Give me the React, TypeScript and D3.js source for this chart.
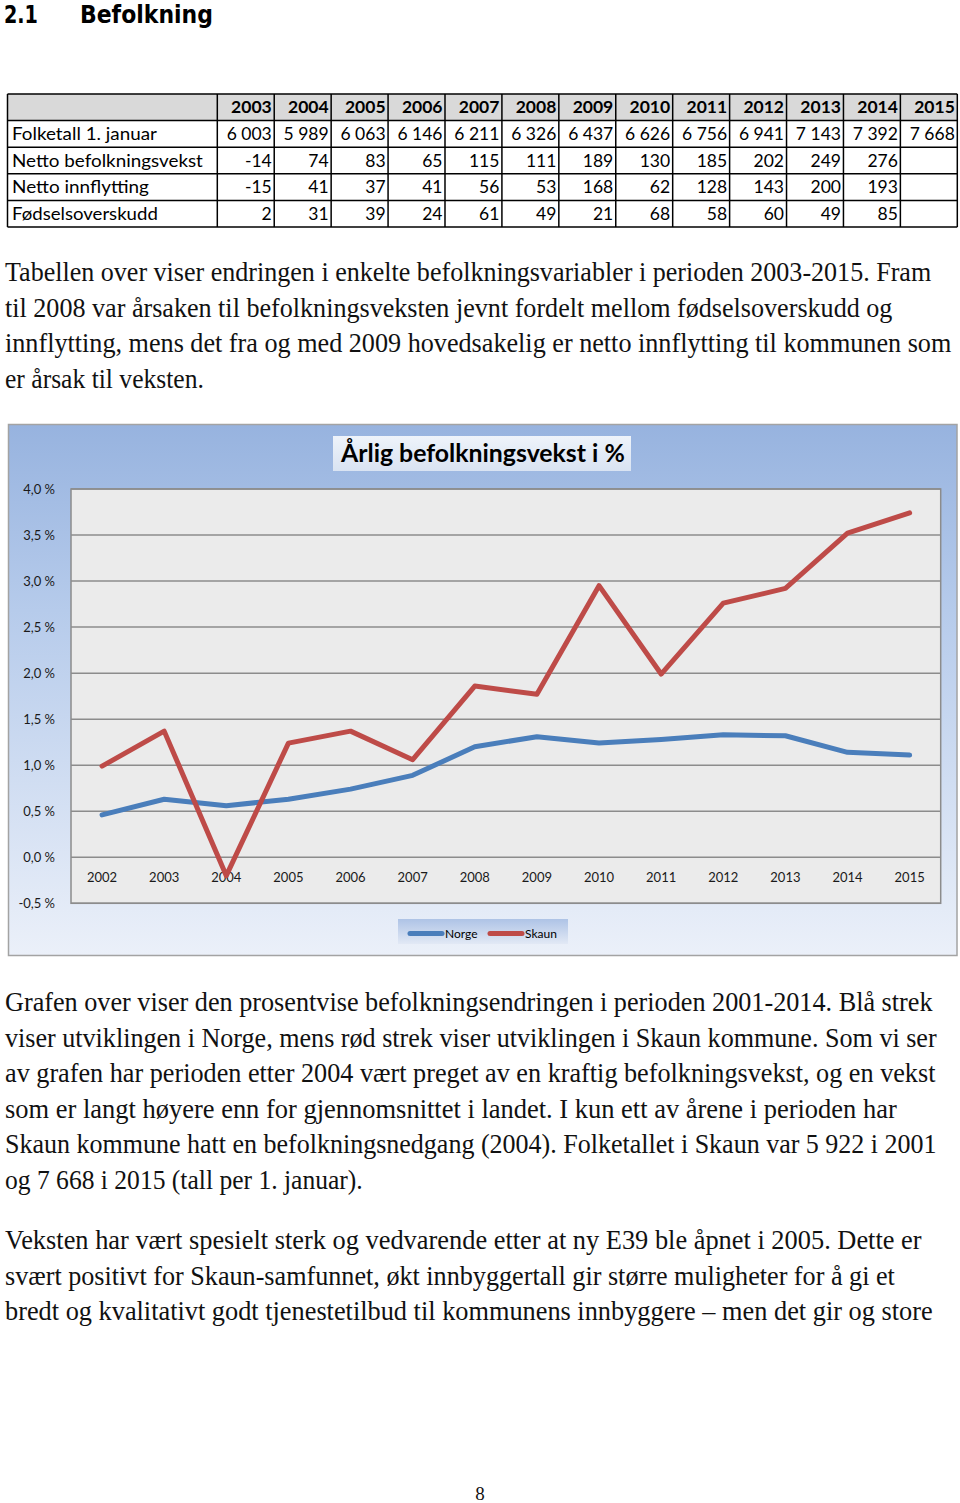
import React, { useLayoutEffect, useRef, useState } from "react";
import * as d3 from "d3";

// ---------- DATA ----------
const chartYears = ["2002", "2003", "2004", "2005", "2006", "2007", "2008", "2009", "2010", "2011", "2012", "2013", "2014", "2015"];
const norge = [0.46, 0.63, 0.56, 0.63, 0.74, 0.89, 1.2, 1.31, 1.24, 1.28, 1.33, 1.32, 1.14, 1.11];
const skaun = [0.99, 1.37, -0.2, 1.24, 1.37, 1.06, 1.86, 1.77, 2.95, 1.99, 2.76, 2.92, 3.52, 3.74];
const yTicks = [-0.5, 0, 0.5, 1, 1.5, 2, 2.5, 3, 3.5, 4];
const seriesNames = ["Norge", "Skaun"];

const tableYears = ["2003", "2004", "2005", "2006", "2007", "2008", "2009", "2010", "2011", "2012", "2013", "2014", "2015"];
const rowLabels = ["Folketall 1. januar", "Netto befolkningsvekst", "Netto innflytting", "Fødselsoverskudd"];
const folketall = [6003, 5989, 6063, 6146, 6211, 6326, 6437, 6626, 6756, 6941, 7143, 7392, 7668];
const nettoVekst = [-14, 74, 83, 65, 115, 111, 189, 130, 185, 202, 249, 276, null];
const nettoInnflytting = [-15, 41, 37, 41, 56, 53, 168, 62, 128, 143, 200, 193, null];
const fodselsoverskudd = [2, 31, 39, 24, 61, 49, 21, 68, 58, 60, 49, 85, null];

const heading = ["2.1", "Befolkning"];
const chartTitle = "Årlig befolkningsvekst i %";
const para1 = [
  "Tabellen over viser endringen i enkelte befolkningsvariabler i perioden 2003-2015. Fram",
  "til 2008 var årsaken til befolkningsveksten jevnt fordelt mellom fødselsoverskudd og",
  "innflytting, mens det fra og med 2009 hovedsakelig er netto innflytting til kommunen som",
  "er årsak til veksten.",
];
const para2 = [
  "Grafen over viser den prosentvise befolkningsendringen i perioden 2001-2014. Blå strek",
  "viser utviklingen i Norge, mens rød strek viser utviklingen i Skaun kommune. Som vi ser",
  "av grafen har perioden etter 2004 vært preget av en kraftig befolkningsvekst, og en vekst",
  "som er langt høyere enn for gjennomsnittet i landet. I kun ett av årene i perioden har",
  "Skaun kommune hatt en befolkningsnedgang (2004). Folketallet i Skaun var 5 922 i 2001",
  "og 7 668 i 2015 (tall per 1. januar).",
];
const para3 = [
  "Veksten har vært spesielt sterk og vedvarende etter at ny E39 ble åpnet i 2005. Dette er",
  "svært positivt for Skaun-samfunnet, økt innbyggertall gir større muligheter for å gi et",
  "bredt og kvalitativt godt tjenestetilbud til kommunens innbyggere – men det gir og store",
];
const pageNumber = "8";

// ---------- LAYOUT ----------
const W = 960;
const H = 1503;
const para1Ends = [932, 893, 952, 204];
const para2Ends = [933, 937, 936, 897, 937, 363];
const para3Ends = [922, 895, 933];

const nb = d3.formatLocale({ decimal: ",", thousands: " ", grouping: [3], currency: ["", ""], minus: "-" });
const fmtInt = nb.format(",d");
const fmtPct = (v: number) => nb.format(".1f")(v) + " %";

const chartFont = "Lato, 'Open Sans', sans-serif";
const serif = "'Liberation Serif', 'DejaVu Serif', serif";

// Text horizontally scaled so that it spans exactly `width` px from x.
function FitText({ x, y, width, children, ...rest }: any) {
  const ref = useRef<SVGTextElement>(null);
  const [s, setS] = useState(1);
  useLayoutEffect(() => {
    const n = ref.current;
    if (!n) return;
    const w = n.getComputedTextLength();
    if (w > 0) setS(width / w);
  }, [width, children]);
  return (
    <text ref={ref} x={0} y={0} transform={`translate(${x},${y}) scale(${s},1)`} {...rest}>
      {children}
    </text>
  );
}

function Paragraph({ lines, ends, y0 }: { lines: string[]; ends: number[]; y0: number }) {
  return (
    <g fontFamily={serif} fontSize={27} fill="#111">
      {lines.map((l, i) => (
        <FitText key={i} x={5} y={y0 + i * 35.5} width={ends[i] - 5}>
          {l}
        </FitText>
      ))}
    </g>
  );
}

function Table() {
  const col = d3.scaleBand<string>().domain(tableYears).range([217.3, 957.3]);
  const rows = ["header", ...rowLabels];
  const row = d3.scaleBand<string>().domain(rows).range([94, 227]);
  const values = [
    folketall.map((v) => fmtInt(v)),
    nettoVekst.map((v) => (v == null ? "" : fmtInt(v))),
    nettoInnflytting.map((v) => (v == null ? "" : fmtInt(v))),
    fodselsoverskudd.map((v) => (v == null ? "" : fmtInt(v))),
  ];
  const labelLens = [145, 191, 137, 146];
  const rh = row.bandwidth();
  return (
    <g fontFamily={chartFont} fontSize={17.5} fill="#000">
      <rect x={7.5} y={94} width={957.3 - 7.5} height={rh} fill="#d9d9d9" />
      {rows.map((r) => (
        <line key={"h" + r} x1={7.5} x2={957.3} y1={(row(r) as number) + rh} y2={(row(r) as number) + rh} stroke="#000" strokeWidth={1.5} />
      ))}
      <line x1={7.5} x2={957.3} y1={94} y2={94} stroke="#000" strokeWidth={1.5} />
      <line x1={7.5} x2={7.5} y1={94} y2={227} stroke="#000" strokeWidth={1.5} />
      <line x1={217.3} x2={217.3} y1={94} y2={227} stroke="#000" strokeWidth={1.5} />
      {tableYears.map((yr) => (
        <line key={"v" + yr} x1={(col(yr) as number) + col.bandwidth()} x2={(col(yr) as number) + col.bandwidth()} y1={94} y2={227} stroke="#000" strokeWidth={1.5} />
      ))}
      {tableYears.map((yr) => (
        <text key={"t" + yr} x={(col(yr) as number) + col.bandwidth() - 2.5} y={(row("header") as number) + rh / 2 + 6} textAnchor="end" fontWeight="bold">
          {yr}
        </text>
      ))}
      {rowLabels.map((lab, ri) => (
        <g key={lab}>
          <FitText x={12} y={(row(lab) as number) + rh / 2 + 6} width={labelLens[ri]}>
            {lab}
          </FitText>
          {values[ri].map((v, ci) => (
            <text key={ci} x={(col(tableYears[ci]) as number) + col.bandwidth() - 2.5} y={(row(lab) as number) + rh / 2 + 6} textAnchor="end">
              {v}
            </text>
          ))}
        </g>
      ))}
    </g>
  );
}

function Chart() {
  const left = 71, right = 940.7, top = 489, bottom = 903.3;
  const x = d3.scaleBand<string>().domain(chartYears).range([left, right]);
  const y = d3.scaleLinear().domain([-0.5, 4]).range([bottom, top]);
  const cx = (yr: string) => (x(yr) as number) + x.bandwidth() / 2;
  const line = d3
    .line<number>()
    .x((_, i) => cx(chartYears[i]))
    .y((d) => y(d));
  const colors = ["#4a7ebb", "#be4b48"];
  const series = [norge, skaun];
  return (
    <g fontFamily={chartFont}>
      <defs>
        <linearGradient id="bgGrad" x1="0" y1="0" x2="0" y2="1">
          <stop offset="0" stopColor="#97b3df" />
          <stop offset="0.35" stopColor="#b6cbeb" />
          <stop offset="1" stopColor="#ebf0f9" />
        </linearGradient>
        <linearGradient id="titleGrad" x1="0" y1="0" x2="0" y2="1">
          <stop offset="0" stopColor="#eef3fa" />
          <stop offset="1" stopColor="#d9e3f2" />
        </linearGradient>
        <linearGradient id="legGrad" x1="0" y1="0" x2="0" y2="1">
          <stop offset="0" stopColor="#aec3e6" />
          <stop offset="1" stopColor="#e2e9f5" />
        </linearGradient>
      </defs>
      <rect x={8.5} y={424.5} width={948.5} height={531} fill="url(#bgGrad)" stroke="#a3a3a3" strokeWidth={1.5} />
      <rect x={left} y={top} width={right - left} height={bottom - top} fill="#ebebeb" stroke="#8c8c8c" strokeWidth={1.5} />
      {yTicks.map((t) => (
        <g key={t}>
          <line x1={left} x2={right} y1={y(t)} y2={y(t)} stroke="#8c8c8c" strokeWidth={1.5} />
          <text x={55} y={y(t) + 4.5} textAnchor="end" fontSize={13} fill="#1a1a1a">
            {fmtPct(t)}
          </text>
        </g>
      ))}
      {chartYears.map((yr) => (
        <text key={yr} x={cx(yr)} y={y(0) + 25} textAnchor="middle" fontSize={13} fill="#1a1a1a">
          {yr}
        </text>
      ))}
      {series.map((s, i) => (
        <path key={i} d={line(s) as string} fill="none" stroke={colors[i]} strokeWidth={5} strokeLinejoin="round" strokeLinecap="round" />
      ))}
      <rect x={333} y={436} width={298} height={35} fill="url(#titleGrad)" />
      <FitText x={341} y={462} width={284} fontSize={24} fontWeight="bold" fill="#000">
        {chartTitle}
      </FitText>
      <rect x={398} y={919} width={170} height={25} fill="url(#legGrad)" />
      {seriesNames.map((n, i) => (
        <g key={n} transform={`translate(${410 + i * 80},0)`}>
          <line x1={0} x2={32} y1={933.5} y2={933.5} stroke={colors[i]} strokeWidth={5} strokeLinecap="round" />
          <text x={35} y={938} fontSize={12} fill="#000">
            {n}
          </text>
        </g>
      ))}
    </g>
  );
}

export default function App() {
  return (
    <div style={{ position: "absolute", left: 0, top: 0, width: W, height: H, background: "#fff" }}>
      <svg width={W} height={H} style={{ display: "block" }}>
        <rect width={W} height={H} fill="#fff" />
        <g fontFamily="'DejaVu Sans', sans-serif" fontWeight="bold" fontSize={25} fill="#000">
          <FitText x={4} y={23} width={34}>{heading[0]}</FitText>
          <FitText x={80} y={23} width={133}>{heading[1]}</FitText>
        </g>
        <Table />
        <Paragraph lines={para1} ends={para1Ends} y0={281} />
        <Chart />
        <Paragraph lines={para2} ends={para2Ends} y0={1011} />
        <Paragraph lines={para3} ends={para3Ends} y0={1249} />
        <text x={480} y={1500} textAnchor="middle" fontFamily={serif} fontSize={19} fill="#111">
          {pageNumber}
        </text>
      </svg>
    </div>
  );
}
